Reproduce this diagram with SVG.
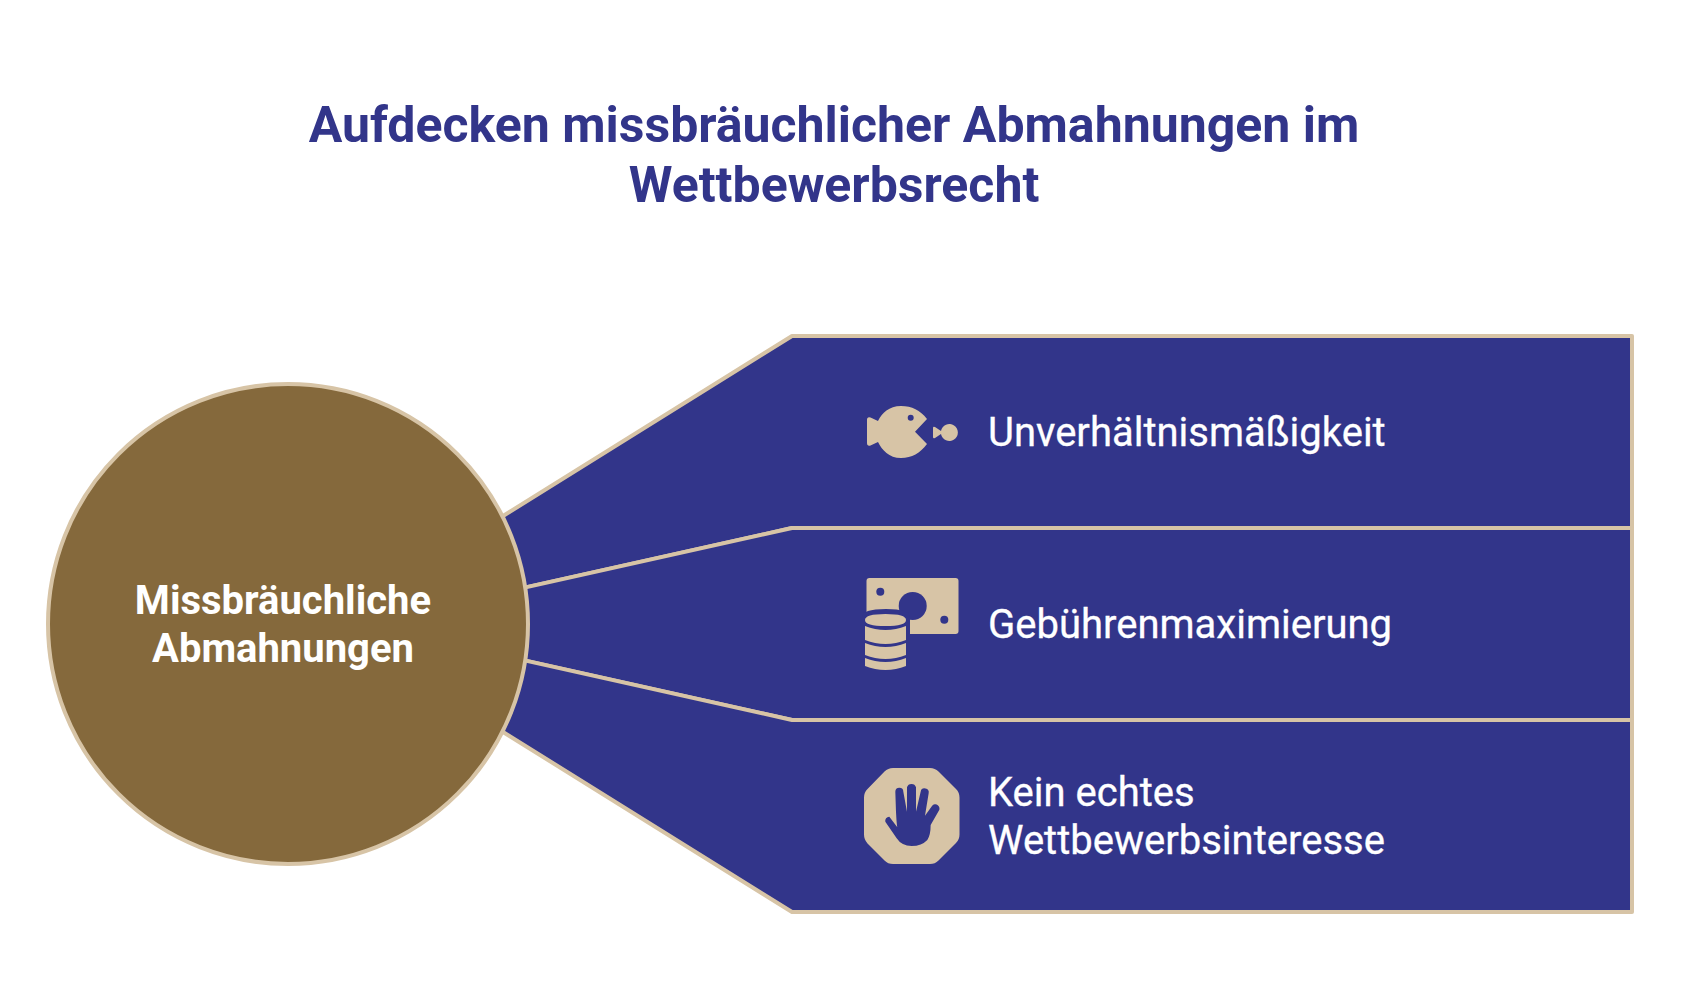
<svg xmlns="http://www.w3.org/2000/svg" width="1681" height="1008" viewBox="0 0 1681 1008">
<style>
text{font-family:Roboto,"Liberation Sans",sans-serif}
.title{font-size:50px;font-weight:700;fill:#32358a;text-anchor:middle}
.lbl{font-size:40px;font-weight:400;fill:#fff;stroke:#fff;stroke-width:.3px}
.hub{font-size:40px;font-weight:700;fill:#fff;text-anchor:middle}
.band{fill:#32358a;stroke:#d7c4a6;stroke-width:4;stroke-linejoin:round}
.ic{fill:#d7c4a6}
.cut{fill:#32358a}
</style>
<rect width="1681" height="1008" fill="#fff"/>
<g id="title">
<text class="title" x="834" y="142">Aufdecken missbräuchlicher Abmahnungen im</text>
<text class="title" x="834" y="202">Wettbewerbsrecht</text>
</g>
<g id="connectors">
<path class="band" d="M495 521L792 336H1632V528H792L520 588.600Z"/>
<path class="band" d="M520 588.600L792 528H1632V720H792L520 659.400Z"/>
<path class="band" d="M495 727L792 912H1632V720H792L520 659.400Z"/>
</g>
<g id="node-hub">
<circle cx="288" cy="624" r="240" fill="#85693c" stroke="#d7c4a6" stroke-width="4"/>
<text class="hub" x="283" y="614">Missbräuchliche</text>
<text class="hub" x="283" y="662">Abmahnungen</text>
</g>
<g id="node-1">
<g class="ic">
<path d="M927 419C920 410 912 406 901 406C889 406 882 413 878 421L870.500 417.500Q867 416.500 867 420V443Q867 446.500 870.500 445.500L878 442C882 450 889 458 901 458C912 458 920 453 927 444L915 431.700Z"/>
<path d="M933 428Q933 426 935 427L941 431A8.500 8.500 0 1 1 941 434L935 438Q933 439 933 437Z"/>
</g>
<circle class="cut" cx="910.700" cy="417.700" r="3"/>
<text class="lbl" x="988" y="446">Unverhältnismäßigkeit</text>
</g>
<g id="node-2">
<rect class="ic" x="866.500" y="578" width="92" height="56" rx="3"/>
<circle class="cut" cx="912.700" cy="606" r="14"/>
<circle class="cut" cx="880.300" cy="591.700" r="4"/>
<circle class="cut" cx="944.300" cy="619.700" r="4"/>
<path class="cut" d="M862 617Q862 609 886 609Q910 609 910 617V672H862Z"/>
<path class="ic" d="M865 620Q865 614 885.500 614Q906 614 906 620Q906 626 885.500 626Q865 626 865 620Z"/>
<path class="ic" d="M865 626Q875 630 885.500 630Q896 630 906 626V640Q896 644 885.500 644Q875 644 865 640Z"/>
<path class="ic" d="M865 643Q875 647 885.500 647Q896 647 906 643V655Q896 659 885.500 659Q875 659 865 655Z"/>
<path class="ic" d="M865 658Q875 662 885.500 662Q896 662 906 658V666Q896 670 885.500 670Q875 670 865 666Z"/>
<text class="lbl" x="988" y="638">Gebührenmaximierung</text>
</g>
<g id="node-3">
<path class="ic" d="M893 768H930Q935 768 938.500 771.500L956 789Q959.500 792.500 959.500 797.500V834.500Q959.500 839.500 956 843L938.500 860.500Q935 864 930 864H893Q888 864 884.500 860.500L867.500 843.500Q864 839.500 864 834.500V797.500Q864 792.500 867.500 789L884.500 771.500Q888 768 893 768Z"/>
<g transform="translate(840,750) scale(.3333)" class="cut">
<path d="M168 185Q170 225 172 232L148 200A12 12 0 0 0 136 215L170 265Q185 288 215 288Q245 288 262 270Q272 255 272 225L296 183A12 12 0 0 0 276 168L255 197L266 130A12 12 0 0 0 242 125L228 185V112A14 14 0 0 0 201 112V185L190 125A12 12 0 0 0 166 125Z"/>
</g>
<text class="lbl" x="988" y="806">Kein echtes</text>
<text class="lbl" x="988" y="854">Wettbewerbsinteresse</text>
</g>
</svg>
